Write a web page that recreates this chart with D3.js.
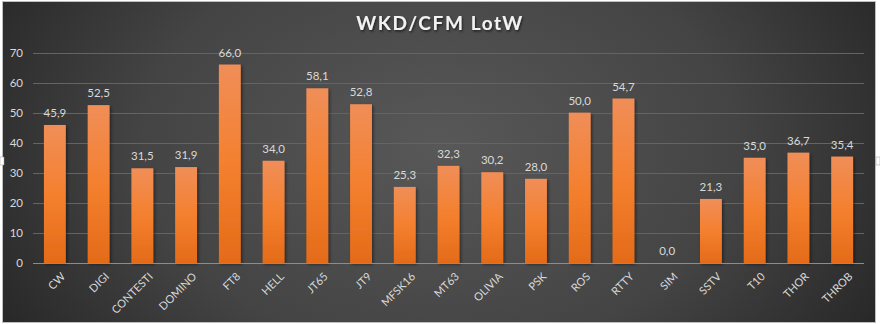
<!DOCTYPE html>
<html>
<head>
<meta charset="utf-8">
<script src="https://cdn.jsdelivr.net/npm/d3@7"></script>
<style>
  html, body { margin: 0; padding: 0; background: #ffffff; }
  svg { display: block; }
  text { font-family: Lato, "Open Sans", "DejaVu Sans", sans-serif; }
</style>
</head>
<body>
<svg id="chart" width="880" height="324"></svg>
<script>
// Modes and their WKD/CFM percentages
const categories = ["CW", "DIGI", "CONTESTI", "DOMINO", "FT8", "HELL", "JT65", "JT9", "MFSK16", "MT63",
  "OLIVIA", "PSK", "ROS", "RTTY", "SIM", "SSTV", "T10", "THOR", "THROB"];
const values = [45.9, 52.5, 31.5, 31.9, 66.0, 34.0, 58.1, 52.8, 25.3, 32.3,
  30.2, 28.0, 50.0, 54.7, 0.0, 21.3, 35.0, 36.7, 35.4];
const yTicks = [0, 10, 20, 30, 40, 50, 60, 70];
const title = "WKD/CFM LotW";

const W = 880, H = 324;
const frame = { x: 3, y: 2, w: 872, h: 320 };
const plot = { left: 33, right: 864, top: 52.5, bottom: 263 };

const svg = d3.select("#chart");
const defs = svg.append("defs");

// Dark radial backdrop
const bg = defs.append("radialGradient").attr("id", "bgGrad")
  .attr("cx", "50%").attr("cy", "45%").attr("r", "62%")
  .attr("gradientTransform", "translate(0.5,0.45) scale(1,1.9) translate(-0.5,-0.45)");
bg.append("stop").attr("offset", "0%").attr("stop-color", "#585858");
bg.append("stop").attr("offset", "55%").attr("stop-color", "#444444");
bg.append("stop").attr("offset", "100%").attr("stop-color", "#232323");

// Orange bar fill, lighter at the top
const barGrad = defs.append("linearGradient").attr("id", "barGrad")
  .attr("x1", 0).attr("y1", 0).attr("x2", 0).attr("y2", 1);
barGrad.append("stop").attr("offset", "0%").attr("stop-color", "#f08e58");
barGrad.append("stop").attr("offset", "50%").attr("stop-color", "#f4802f");
barGrad.append("stop").attr("offset", "100%").attr("stop-color", "#e46b18");

const shadow = defs.append("filter").attr("id", "barShadow")
  .attr("x", "-30%").attr("y", "-10%").attr("width", "160%").attr("height", "130%");
shadow.append("feDropShadow").attr("dx", 1.5).attr("dy", 1.5).attr("stdDeviation", 1.5)
  .attr("flood-color", "#000").attr("flood-opacity", 0.45);

const titleShadow = defs.append("filter").attr("id", "titleShadow")
  .attr("x", "-10%").attr("y", "-30%").attr("width", "120%").attr("height", "160%");
titleShadow.append("feDropShadow").attr("dx", 1).attr("dy", 1.5).attr("stdDeviation", 1)
  .attr("flood-color", "#000").attr("flood-opacity", 0.6);

// Chart frame
svg.append("rect")
  .attr("x", frame.x - 0.5).attr("y", frame.y - 0.5)
  .attr("width", frame.w + 1).attr("height", frame.h + 1)
  .attr("fill", "none").attr("stroke", "#bfbfbf").attr("stroke-width", 1);
svg.append("rect")
  .attr("x", frame.x).attr("y", frame.y).attr("width", frame.w).attr("height", frame.h)
  .attr("fill", "url(#bgGrad)");

// Frame handles
[[0, 157], [876, 157]].forEach(([hx, hy]) => {
  svg.append("rect").attr("x", hx).attr("y", hy).attr("width", 4).attr("height", 8)
    .attr("fill", "#ffffff").attr("stroke", "#9a9a9a").attr("stroke-width", 0.5);
});

const x = d3.scaleBand().domain(categories).range([plot.left, plot.right]).paddingInner(0.5).paddingOuter(0.25);
const y = d3.scaleLinear().domain([0, 70]).range([plot.bottom, plot.top]);

// Gridlines
svg.append("g").selectAll("line").data(yTicks.filter(d => d > 0)).join("line")
  .attr("x1", plot.left).attr("x2", plot.right)
  .attr("y1", d => Math.round(y(d)) + 0.5).attr("y2", d => Math.round(y(d)) + 0.5)
  .attr("stroke", "#646464").attr("stroke-width", 1);

// Y axis labels
const yAxis = d3.axisLeft(y).tickValues(yTicks).tickSize(0).tickPadding(10).tickFormat(d3.format("d"));
const gy = svg.append("g").attr("transform", `translate(${plot.left},0)`).call(yAxis);
gy.select(".domain").remove();
gy.selectAll("text").attr("fill", "#d9d9d9").attr("font-size", 11.5);

// Bars
svg.append("g").selectAll("rect").data(values).join("rect")
  .attr("x", (d, i) => x(categories[i]))
  .attr("y", d => y(d))
  .attr("width", x.bandwidth())
  .attr("height", d => y(0) - y(d))
  .attr("fill", "url(#barGrad)")
  .attr("filter", "url(#barShadow)");

// Value labels
const fmt = v => d3.format(".1f")(v).replace(".", ",");
svg.append("g").selectAll("text").data(values).join("text")
  .attr("x", (d, i) => x(categories[i]) + x.bandwidth() / 2)
  .attr("y", d => y(d) - 8)
  .attr("text-anchor", "middle")
  .attr("fill", "#d9d9d9").attr("font-size", 11.5)
  .text(d => fmt(d));

// X axis
const xAxis = d3.axisBottom(x).tickSize(0).tickPadding(0);
const gx = svg.append("g").attr("transform", `translate(0,${plot.bottom})`).call(xAxis);
gx.select(".domain").attr("d", `M${plot.left},0.5H${plot.right}`).attr("stroke", "#8c8c8c").attr("stroke-width", 1.2);
gx.selectAll(".tick text")
  .attr("fill", "#d9d9d9").attr("font-size", 11)
  .attr("text-anchor", "end")
  .attr("dy", null).attr("y", 0)
  .attr("transform", "translate(5,8) rotate(-45)")
  .attr("dominant-baseline", "hanging");

// Title
svg.append("text")
  .attr("x", 440).attr("y", 30)
  .attr("text-anchor", "middle")
  .attr("fill", "#f2f2f2").attr("font-size", 19).attr("font-weight", "bold")
  .attr("letter-spacing", 1.6)
  .attr("filter", "url(#titleShadow)")
  .text(title);
</script>
</body>
</html>
